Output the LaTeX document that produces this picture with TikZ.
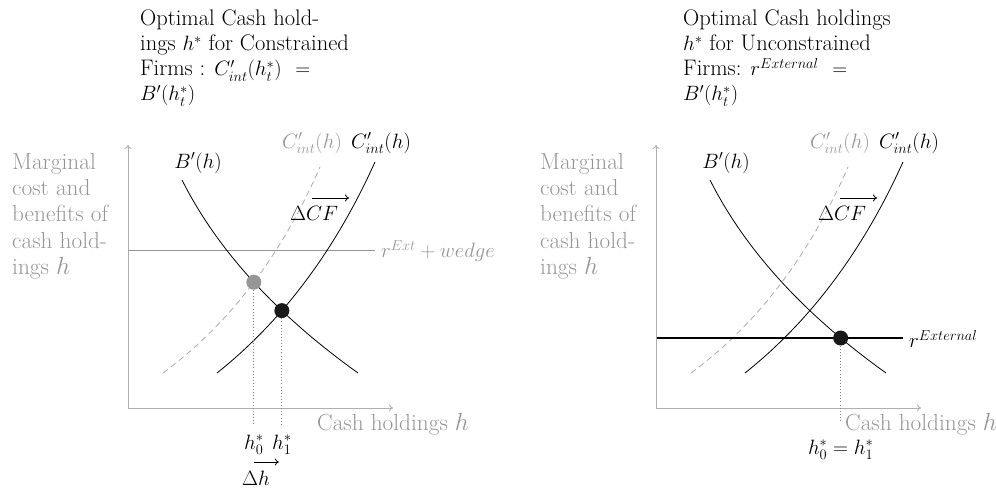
\documentclass[tikz,border=0pt]{standalone}
\usetikzlibrary{intersections,arrows.meta}
\definecolor{txtgray}{RGB}{150,150,150}
\definecolor{axgray}{RGB}{175,175,175}
\definecolor{rgray}{RGB}{150,150,150}
\definecolor{linegray}{RGB}{130,130,130}
\definecolor{dashgray}{RGB}{170,170,170}
\definecolor{dotgray}{RGB}{150,150,150}
\definecolor{dotblack}{RGB}{25,25,25}
\newcommand\ttlfont{\fontsize{22.5}{25}\selectfont}
\newcommand\lblfont{\fontsize{23.3}{26.3}\selectfont}
\newcommand\mfont{\fontsize{21.5}{24}\selectfont}
\begin{document}
\begin{tikzpicture}[x=1pt,y=-1pt,
  axis/.style={draw=axgray, line width=0.9pt, -{Computer Modern Rightarrow[length=4pt,width=7pt]}},
  curve/.style={draw=black, line width=0.8pt},
  dcurve/.style={draw=dashgray, line width=0.8pt, dash pattern=on 6pt off 4pt},
  dotline/.style={draw=linegray, line width=0.9pt, dash pattern=on 0.9pt off 2.2pt},
  smallarrow/.style={draw=black, line width=0.8pt, -{Computer Modern Rightarrow[length=4pt,width=7pt]}},
  mlabel/.style={inner sep=0pt, font=\mfont},
  ylab/.style={inner sep=0pt, anchor=north west, align=left, font=\lblfont, text=txtgray},
  xlab/.style={inner sep=0pt, anchor=base west, font=\lblfont, text=txtgray},
  ttl/.style={inner sep=0pt, anchor=north west, align=left, font=\ttlfont},
  bigdot/.style={circle, inner sep=0pt, minimum size=15pt},
]
\useasboundingbox (0,0) rectangle (996,489);

% ---------- titles ----------
\node[ttl] (titleL) at (140,10) {Optimal Cash hold-\\ings $h^*$ for Constrained\\Firms : $C'_{int}(h^*_t)$\ \ $=$\\$B'(h^*_t)$};
\node[ttl] (titleR) at (683,10) {Optimal Cash holdings\\$h^*$ for Unconstrained\\Firms: $r^{External}$\ \ $=$\\$B'(h^*_t)$};

% ---------- left panel ----------
\node[ylab] (ylabL) at (12,153) {Marginal\\cost and\\benefits of\\cash hold-\\ings $h$};
\coordinate (OL) at (128,408);
\coordinate (YL) at (128,145);
\coordinate (XL) at (393,408);
\draw[axis] (OL) -- (YL);
\draw[axis] (OL) -- (XL);
\node[xlab] (xlabL) at (317,430) {Cash holdings $h$};

\draw[draw=rgray, line width=0.8pt] (128,250) -- (375,250);
\node[mlabel, text=txtgray, anchor=west] (rL) at (381,251) {$r^{Ext}+wedge$};

\draw[dcurve, name path=DL] (163,373) .. controls (229,324.3) and (281.3,255.7) .. (320,167);
\draw[curve, name path=BL] (182,180) .. controls (217.3,250) and (276,314.3) .. (358,373);
\draw[curve, name path=CL] (217,373) .. controls (282.3,321) and (335,250.7) .. (375,162);

\node[mlabel] (BhL) at (198,163) {$B'(h)$};
\node[mlabel, text=txtgray] (CgL) at (312,143) {$C'_{int}(h)$};
\node[mlabel] (CbL) at (381,143) {$C'_{int}(h)$};
\node[mlabel] (dcfL) at (314,213) {$\Delta CF$};
\coordinate (dcfLa) at (312,198);
\coordinate (dcfLb) at (349,198);
\draw[smallarrow] (dcfLa) -- (dcfLb);

\path[name intersections={of=BL and DL, by=iG}];
\path[name intersections={of=BL and CL, by=iB}];
\node[bigdot, fill=dotgray] (dotG) at (iG) {};
\node[bigdot, fill=dotblack] (dotB) at (iB) {};
\draw[dotline] (dotG.south) -- (dotG |- 0,425);
\draw[dotline] (dotB.south) -- (dotB |- 0,425);
\node[mlabel, anchor=base] (h0L) at (dotG |- 0,449) {$h^*_0$};
\node[mlabel, anchor=base] (h1L) at (dotB |- 0,449) {$h^*_1$};
\coordinate (dhA) at (dotG |- 0,462);
\coordinate (dhB) at ([xshift=-3pt]dotB |- 0,462);
\draw[smallarrow] (dhA) -- (dhB);
\node[mlabel] (dhL) at (256,478) {$\Delta h$};

% ---------- right panel ----------
\begin{scope}[xshift=528pt]
\node[ylab] (ylabR) at (12,153) {Marginal\\cost and\\benefits of\\cash hold-\\ings $h$};
\coordinate (OR) at (128,408);
\coordinate (YR) at (128,145);
\coordinate (XR) at (393,408);
\draw[axis] (OR) -- (YR);
\draw[axis] (OR) -- (XR);
\node[xlab] (xlabR) at (317,430) {Cash holdings $h$};

\draw[dcurve, name path=DR] (163,373) .. controls (229,324.3) and (281.3,255.7) .. (320,167);
\draw[curve, name path=BR] (182,180) .. controls (217.3,250) and (276,314.3) .. (358,373);
\draw[curve, name path=CR] (217,373) .. controls (282.3,321) and (335,250.7) .. (375,162);
\draw[draw=black, line width=1.3pt, name path=RR] (129,338) -- (375,338);
\node[mlabel, anchor=west] (rR) at (381,339) {$r^{External}$};

\node[mlabel] (BhR) at (198,163) {$B'(h)$};
\node[mlabel, text=txtgray] (CgR) at (312,143) {$C'_{int}(h)$};
\node[mlabel] (CbR) at (381,143) {$C'_{int}(h)$};
\node[mlabel] (dcfR) at (314,213) {$\Delta CF$};
\coordinate (dcfRa) at (312,198);
\coordinate (dcfRb) at (349,198);
\draw[smallarrow] (dcfRa) -- (dcfRb);

\path[name intersections={of=BR and RR, by=iR}];
\node[bigdot, fill=dotblack] (dotR) at (iR) {};
\draw[dotline] (dotR.south) -- (dotR |- 0,423);
\node[mlabel, anchor=base] (hR) at (dotR |- 0,454) {$h^*_0=h^*_1$};
\end{scope}
\end{tikzpicture}
\end{document}
